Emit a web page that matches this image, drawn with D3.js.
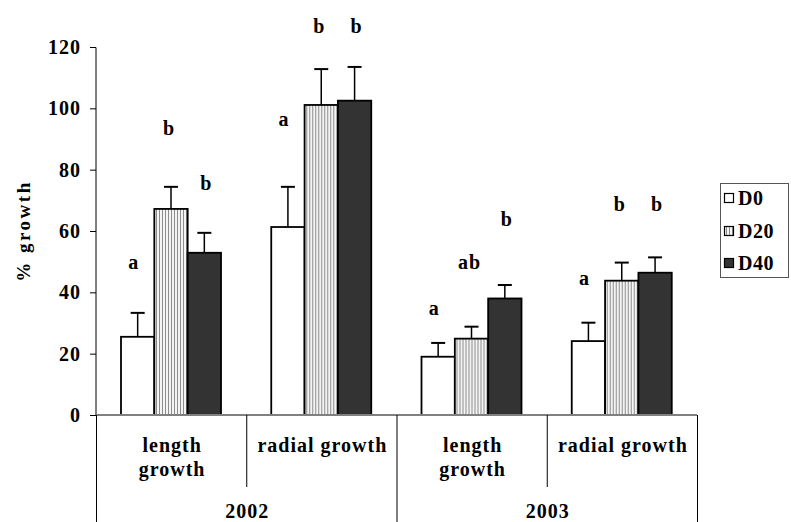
<!DOCTYPE html>
<html><head><meta charset="utf-8">
<script src="https://cdn.jsdelivr.net/npm/d3@7"></script>
<style>body{margin:0;background:#fff}svg{display:block}text{font-family:"Liberation Serif","Times New Roman",serif;font-weight:bold;letter-spacing:1px}</style>
</head><body><svg id="c" width="791" height="522"></svg>
<script>
const years = ["2002", "2003"];
const categories = ["length growth", "radial growth", "length growth", "radial growth"];
const categoryYear = [0, 0, 1, 1];
const series = ["D0", "D20", "D40"];
const d0 = [25.5, 61.3, 19.0, 24.1];
const d20 = [67.2, 101.1, 24.9, 43.8];
const d40 = [52.9, 102.5, 38.0, 46.4];
const d0Err = [7.8, 13.1, 4.5, 6.0];
const d20Err = [7.2, 11.7, 3.9, 5.9];
const d40Err = [6.5, 11.0, 4.4, 5.0];
const d0Letters = ["a", "a", "a", "a"];
const d20Letters = ["b", "b", "ab", "b"];
const d40Letters = ["b", "b", "b", "b"];
const d0LetterAt = [50, 96.5, 35, 44.8];
const d20LetterAt = [93.6, 127, 50, 68.8];
const d40LetterAt = [75.6, 127, 64, 68.8];
const yTicks = [0, 20, 40, 60, 80, 100, 120];

const values = [d0, d20, d40], errs = [d0Err, d20Err, d40Err];
const letters = [d0Letters, d20Letters, d40Letters], letterAt = [d0LetterAt, d20LetterAt, d40LetterAt];

const svg = d3.select("#c");
const defs = svg.append("defs");
const pat = defs.append("pattern").attr("id", "stripes").attr("patternUnits", "userSpaceOnUse")
  .attr("width", 3).attr("height", 10);
pat.append("rect").attr("width", 3).attr("height", 10).attr("fill", "#f4f4f4");
pat.append("rect").attr("width", 1).attr("height", 10).attr("fill", "#8c8c8c");
const fills = ["#ffffff", "url(#stripes)", "#333333"];

const x0 = d3.scaleBand().domain(d3.range(categories.length)).range([96, 697]);
const x1 = d3.scaleBand().domain(series).range([25, 125]);
const y = d3.scaleLinear().domain([0, 120]).range([415, 47]);

// y axis
const ya = svg.append("g").attr("transform", "translate(96,0)")
  .call(d3.axisLeft(y).tickValues(yTicks).tickSize(6).tickPadding(9).tickFormat(d3.format("d")));
ya.select(".domain").attr("stroke", "#000").attr("d", "M-6,47.5H0V415");
ya.selectAll(".tick line").attr("stroke", "#000");
ya.selectAll(".tick text").attr("font-size", 20).attr("fill", "#000")
  .style("font-family", '"Liberation Serif",serif').style("font-weight", "bold");

svg.append("text").attr("transform", "translate(23,231) rotate(-90)").attr("text-anchor", "middle")
  .attr("dominant-baseline", "central").attr("font-size", 19).style("letter-spacing", "2.5px").text("% growth");

// bars
categories.forEach((c, i) => {
  const g = svg.append("g").attr("transform", `translate(${x0(i)},0)`);
  series.forEach((s, j) => {
    const v = values[j][i], e = errs[j][i];
    const bx = x1(s), bw = x1.bandwidth(), cx = bx + bw / 2;
    g.append("line").attr("x1", cx).attr("x2", cx).attr("y1", y(v)).attr("y2", y(v + e))
      .attr("stroke", "#000").attr("stroke-width", 1.5);
    g.append("line").attr("x1", cx - 7).attr("x2", cx + 7).attr("y1", y(v + e)).attr("y2", y(v + e))
      .attr("stroke", "#000").attr("stroke-width", 2);
    g.append("rect").attr("x", bx).attr("y", y(v)).attr("width", bw).attr("height", y(0) - y(v))
      .attr("fill", fills[j]).attr("stroke", "#000").attr("stroke-width", 1.8);
    g.append("text").attr("x", cx + [-4, -2, 2][j]).attr("y", y(letterAt[j][i]))
      .attr("text-anchor", "middle").attr("dominant-baseline", "central").attr("font-size", 20)
      .text(letters[j][i]);
  });
});

// x axis line
svg.append("line").attr("x1", 96).attr("x2", 697).attr("y1", 415).attr("y2", 415)
  .attr("stroke", "#808080").attr("stroke-width", 2);

// dividers
categories.forEach((c, i) => {
  const xl = x0(i);
  const full = i === 0 || categoryYear[i] !== categoryYear[i - 1];
  svg.append("line").attr("x1", xl + 0.5).attr("x2", xl + 0.5).attr("y1", 415).attr("y2", full ? 522 : 487)
    .attr("stroke", "#000");
});
svg.append("line").attr("x1", 697.5).attr("x2", 697.5).attr("y1", 415).attr("y2", 522).attr("stroke", "#000");

// category labels
categories.forEach((c, i) => {
  const cx = x0(i) + x0.bandwidth() / 2 + 1;
  const t = svg.append("text").attr("text-anchor", "middle").attr("font-size", 20);
  if (c === "length growth") {
    t.append("tspan").attr("x", cx).attr("y", 452).text("length");
    t.append("tspan").attr("x", cx).attr("y", 476).text("growth");
  } else {
    t.append("tspan").attr("x", cx).attr("y", 452).text(c);
  }
});
years.forEach((yr, k) => {
  const idx = categoryYear.map((v, i) => v === k ? i : -1).filter(i => i >= 0);
  const cx = (x0(idx[0]) + x0(idx[idx.length - 1]) + x0.bandwidth()) / 2 + 1;
  svg.append("text").attr("x", cx).attr("y", 518).attr("text-anchor", "middle").attr("font-size", 20).text(yr);
});

// legend
const lg = svg.append("g");
lg.append("rect").attr("x", 720.5).attr("y", 183.5).attr("width", 68).attr("height", 94)
  .attr("fill", "#fff").attr("stroke", "#555");
const ly = [198, 231, 263];
series.forEach((s, j) => {
  lg.append("rect").attr("x", 724.5).attr("y", ly[j] - 4.5).attr("width", 9).attr("height", 9)
    .attr("fill", fills[j]).attr("stroke", "#000").attr("stroke-width", 1.2);
  lg.append("text").attr("x", 738).attr("y", ly[j]).attr("dominant-baseline", "central")
    .attr("font-size", 20).style("letter-spacing", "0.5px").text(s);
});
</script></body></html>
